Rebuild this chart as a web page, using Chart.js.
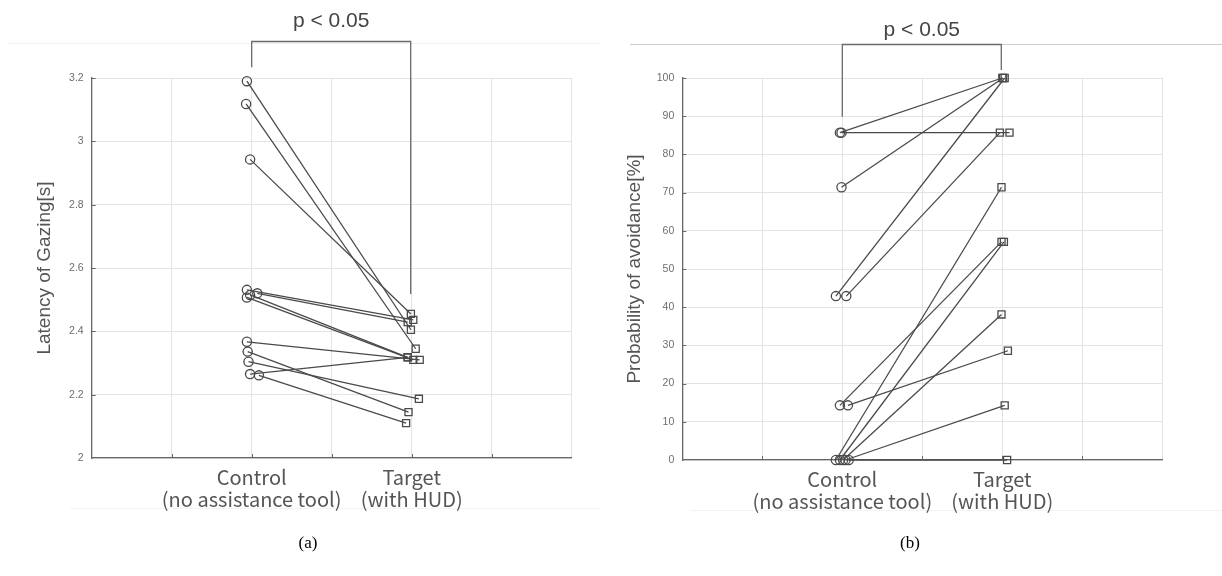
<!DOCTYPE html>
<html><head><meta charset="utf-8">
<script src="https://cdn.jsdelivr.net/npm/chart.js@4.4.1/dist/chart.umd.min.js"></script>
<style>
body{margin:0;width:1222px;height:576px;background:#fff;position:relative;overflow:hidden;font-family:"Liberation Sans",Arial,sans-serif}
.wrap{position:absolute;top:0;width:611px;height:576px}
.rule{position:absolute;height:1px}
.cap{position:absolute;top:533px;font-family:"Liberation Serif","Times New Roman",serif;font-size:17px;color:#000;transform:translateX(-50%)}
</style></head><body>
<div class="rule" style="left:8px;width:592px;top:43px;background:#f1f1f1"></div>
<div class="rule" style="left:630px;width:592px;top:44px;background:#cfcfcf"></div>
<div class="rule" style="left:70px;width:530px;top:508px;background:#f3f3f3"></div>
<div class="rule" style="left:690px;width:532px;top:510px;background:#f3f3f3"></div>
<div class="wrap" style="left:0"><canvas id="ca" width="611" height="576"></canvas></div>
<div class="wrap" style="left:611px"><canvas id="cb" width="611" height="576"></canvas></div>
<div class="cap" style="left:308px">(a)</div>
<div class="cap" style="left:910px">(b)</div>
<script>
// ---- data ----
const categoryLabels = [["Control", "(no assistance tool)"], ["Target", "(with HUD)"]];
const categoryPositions = [2, 4];

// (a) Latency of Gazing [s], one entry per participant
const latencyControlX = [1.94, 1.93, 1.98, 1.94, 2.07, 1.98, 1.94, 1.94, 1.95, 1.96, 1.98, 2.09];
const latencyControl  = [3.19, 3.118, 2.943, 2.531, 2.520, 2.515, 2.507, 2.367, 2.336, 2.304, 2.265, 2.261];
const latencyTargetX  = [3.99, 4.05, 3.99, 4.02, 3.95, 3.95, 4.02, 4.10, 3.96, 4.09, 3.95, 3.93];
const latencyTarget   = [2.405, 2.345, 2.455, 2.436, 2.429, 2.318, 2.310, 2.310, 2.145, 2.187, 2.318, 2.110];
const latencyTicks = [2, 2.2, 2.4, 2.6, 2.8, 3, 3.2];

// (b) Probability of avoidance [%]
const avoidControlX = [1.97, 1.99, 1.99, 1.92, 2.05, 1.97, 2.07, 1.92, 1.97, 2.01, 2.04, 2.08];
const avoidControl  = [85.7, 85.7, 71.4, 42.9, 42.9, 14.3, 14.3, 0, 0, 0, 0, 0];
const avoidTargetX  = [4.00, 4.09, 4.01, 4.03, 3.97, 3.99, 4.07, 3.99, 4.02, 3.99, 4.03, 4.06];
const avoidTarget   = [100, 85.7, 100, 100, 85.7, 57.1, 28.6, 71.4, 57.1, 38.1, 14.3, 0];
const avoidTicks = [0, 10, 20, 30, 40, 50, 60, 70, 80, 90, 100];

const sigText = "p < 0.05";

// ---- drawing ----
const INK = '#4a4a4a';

function buildDatasets(cx, cy, tx, ty) {
  return cy.map((v, i) => ({
    data: [{x: cx[i], y: v}, {x: tx[i], y: ty[i]}],
    showLine: true,
    borderColor: INK,
    borderWidth: 1.3,
    pointStyle: ['circle', 'rect'],
    pointRadius: [4.6, 5],
    pointBorderWidth: 1.3,
    pointBorderColor: INK,
    pointBackgroundColor: 'rgba(255,255,255,0)',
    tension: 0,
    clip: false
  }));
}

const sigPlugin = {
  id: 'sig',
  afterDraw(chart, args, o) {
    const ctx = chart.ctx, xs = chart.scales.x, ys = chart.scales.y, ca = chart.chartArea;
    ctx.save();
    // small inward tick marks (MATLAB style)
    ctx.strokeStyle = '#666'; ctx.lineWidth = 1;
    xs.ticks.forEach(t => {
      if (t.value <= xs.min || t.value >= xs.max) return;
      const px = Math.round(xs.getPixelForValue(t.value)) + 0.5;
      ctx.beginPath(); ctx.moveTo(px, ca.bottom); ctx.lineTo(px, ca.bottom - 4); ctx.stroke();
    });
    ys.ticks.forEach(t => {
      if (t.value <= ys.min) return;
      const py = Math.round(ys.getPixelForValue(t.value)) + 0.5;
      ctx.beginPath(); ctx.moveTo(ca.left, py); ctx.lineTo(ca.left + 4, py); ctx.stroke();
    });
    // significance bracket
    const x1 = xs.getPixelForValue(o.from), x2 = xs.getPixelForValue(o.to) - 1;
    const yTop = o.top;
    const yL = ys.getPixelForValue(o.leftRef) - o.leftGap;
    const yR = ys.getPixelForValue(o.rightRef) - o.rightGap;
    ctx.strokeStyle = '#6a6a6a'; ctx.lineWidth = 1.3;
    ctx.beginPath();
    ctx.moveTo(x1, yL); ctx.lineTo(x1, yTop); ctx.lineTo(x2, yTop); ctx.lineTo(x2, yR);
    ctx.stroke();
    ctx.fillStyle = '#444';
    ctx.font = '21px "Liberation Sans", Arial, sans-serif';
    ctx.textAlign = 'center'; ctx.textBaseline = 'middle';
    ctx.fillText(sigText, (x1 + x2) / 2, o.textY);
    ctx.restore();
  }
};

function makeChart(id, cfg) {
  return new Chart(document.getElementById(id), {
    type: 'scatter',
    data: {datasets: buildDatasets(cfg.cx, cfg.cy, cfg.tx, cfg.ty)},
    plugins: [sigPlugin],
    options: {
      responsive: false,
      animation: false,
      events: [],
      layout: {padding: {left: 0, top: 78, right: cfg.padRight, bottom: cfg.padBottom}},
      plugins: {
        legend: {display: false},
        tooltip: {enabled: false},
        sig: cfg.sig
      },
      scales: {
        x: {
          type: 'linear', min: 0, max: 6,
          afterBuildTicks(s) { s.ticks = [0, 1, 2, 3, 4, 5, 6].map(v => ({value: v})); },
          afterFit(s) { s.height = 60; },
          ticks: {
            autoSkip: false, maxRotation: 0, padding: 8,
            color: '#555',
            font: {family: '"Noto Sans CJK JP", "Noto Sans", sans-serif', size: 20, lineHeight: 1.1},
            callback(v) {
              const i = categoryPositions.indexOf(v);
              return i >= 0 ? categoryLabels[i] : '';
            }
          },
          grid: {color: '#e3e3e3', lineWidth: 1, drawTicks: false},
          border: {color: '#666', width: 1.3}
        },
        y: {
          type: 'linear', min: cfg.yTicks[0], max: cfg.yTicks[cfg.yTicks.length - 1],
          afterBuildTicks(s) { s.ticks = cfg.yTicks.map(v => ({value: v})); },
          afterFit(s) { s.width = cfg.axisLeft; },
          title: {
            display: true, text: cfg.title, color: '#555',
            font: {family: '"Liberation Sans", Arial, sans-serif', size: 19},
            padding: {top: cfg.titleOuter, bottom: 0}
          },
          ticks: {
            padding: 8, color: '#6e6e6e',
            font: {family: '"Liberation Sans", Arial, sans-serif', size: 10.5},
            callback(v) { return String(+v.toFixed(2)); }
          },
          grid: {color: '#e3e3e3', lineWidth: 1, drawTicks: false},
          border: {color: '#666', width: 1.3}
        }
      }
    }
  });
}

makeChart('ca', {
  cx: latencyControlX, cy: latencyControl, tx: latencyTargetX, ty: latencyTarget,
  yTicks: latencyTicks, title: 'Latency of Gazing[s]', titleOuter: 33,
  axisLeft: 91.7, padRight: 39.3, padBottom: 576 - 458 - 60,
  sig: {from: 2, to: 4, top: 41.5, textY: 21,
        leftRef: Math.max(...latencyControl), leftGap: 14,
        rightRef: Math.max(...latencyTarget), rightGap: 20}
});

makeChart('cb', {
  cx: avoidControlX, cy: avoidControl, tx: avoidTargetX, ty: avoidTarget,
  yTicks: avoidTicks, title: 'Probability of avoidance[%]', titleOuter: 12,
  axisLeft: 71.3, padRight: 59.7, padBottom: 576 - 460 - 60,
  sig: {from: 2, to: 4, top: 44.5, textY: 30,
        leftRef: Math.max(...avoidControl), leftGap: 16,
        rightRef: Math.max(...avoidTarget), rightGap: 8}
});
</script>
</body></html>
